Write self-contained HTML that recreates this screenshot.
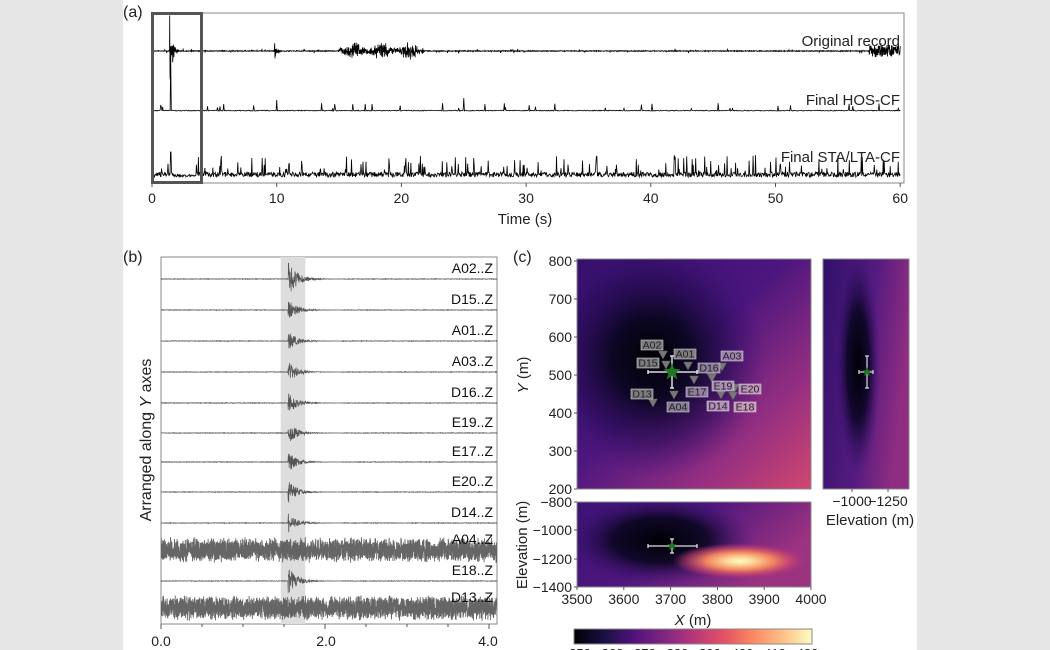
<!DOCTYPE html>
<html><head><meta charset="utf-8"><style>
body{margin:0;background:#e6e6e6;}
svg{display:block;font-family:"Liberation Sans","DejaVu Sans",sans-serif;}
</style></head><body>
<svg id="s" width="1050" height="650" xmlns="http://www.w3.org/2000/svg">
<defs>
<linearGradient id="mbase" x1="0" y1="0" x2="1" y2="1">
<stop offset="0" stop-color="#36106e"/><stop offset="0.45" stop-color="#4c167e"/><stop offset="0.75" stop-color="#952f81"/><stop offset="1" stop-color="#d1476e"/></linearGradient>
<radialGradient id="mdark" cx="0.5" cy="0.5" r="0.5">
<stop offset="0" stop-color="#000004"/><stop offset="0.35" stop-color="#0a0620" stop-opacity="0.95"/><stop offset="0.7" stop-color="#240b52" stop-opacity="0.55"/><stop offset="1" stop-color="#3e1276" stop-opacity="0"/></radialGradient>
<linearGradient id="sbase" x1="0" y1="0" x2="1" y2="0.3">
<stop offset="0" stop-color="#30106a"/><stop offset="0.6" stop-color="#561b80"/><stop offset="1" stop-color="#8e2d81"/></linearGradient>
<radialGradient id="sdark" cx="0.5" cy="0.5" r="0.5">
<stop offset="0" stop-color="#000004"/><stop offset="0.5" stop-color="#0b0624" stop-opacity="0.9"/><stop offset="1" stop-color="#35106d" stop-opacity="0"/></radialGradient>
<linearGradient id="bbase" x1="0" y1="0" x2="1" y2="0.4">
<stop offset="0" stop-color="#3e1276"/><stop offset="0.5" stop-color="#4d177e"/><stop offset="1" stop-color="#9c3380"/></linearGradient>
<radialGradient id="bdark" cx="0.5" cy="0.5" r="0.5">
<stop offset="0" stop-color="#000004"/><stop offset="0.5" stop-color="#0a0620" stop-opacity="0.9"/><stop offset="1" stop-color="#3e1276" stop-opacity="0"/></radialGradient>
<radialGradient id="bhot" cx="0.5" cy="0.5" r="0.5">
<stop offset="0" stop-color="#fcfdbf"/><stop offset="0.2" stop-color="#fcd89a"/><stop offset="0.5" stop-color="#f0845f"/><stop offset="0.8" stop-color="#c8406f" stop-opacity="0.6"/><stop offset="1" stop-color="#9c3380" stop-opacity="0"/></radialGradient>
<linearGradient id="cbar" x1="0" y1="0" x2="1" y2="0">
<stop offset="0" stop-color="#000004"/><stop offset="0.13" stop-color="#1c1044"/><stop offset="0.25" stop-color="#4f127b"/><stop offset="0.38" stop-color="#812581"/><stop offset="0.5" stop-color="#b5367a"/><stop offset="0.63" stop-color="#e55064"/><stop offset="0.75" stop-color="#fb8761"/><stop offset="0.88" stop-color="#fec287"/><stop offset="1" stop-color="#fcfdbf"/></linearGradient>
<clipPath id="cm"><rect x="577" y="259" width="234" height="230"/></clipPath>
<clipPath id="cs"><rect x="823" y="259" width="86" height="230"/></clipPath>
<clipPath id="cb"><rect x="577" y="502" width="234" height="85"/></clipPath>
<clipPath id="cpb"><rect x="161" y="257" width="336" height="367"/></clipPath>
</defs>
<rect x="123" y="0" width="794" height="650" fill="#fff"/>
<g id="g"></g>
</svg>
<script>
var S=document.getElementById('g');var h='';
var seed=7;function r(){seed=(seed*16807)%2147483647;return seed/2147483647;}
function rn(){return r()*2-1;}
function X(t){return 152+t*12.47;}
h+='<rect x="152" y="13" width="752" height="170" fill="none" stroke="#888" stroke-width="1"/>';
var p='M152 51';
for(var i=0;i<=3000;i++){var t=i/50;var a=0.4;
if(t>1.4&&t<2.2)a=33*Math.exp(-(t-1.45)*5);
if(t>9.8&&t<10.6)a=9*Math.exp(-(t-9.85)*6);
if(t>15&&t<21.8)a=3+7*Math.pow(Math.sin((t-15)*1.4),2)*r();
if(t>57.5)a=6;
if(r()<0.02)a+=2;
p+='L'+X(t).toFixed(1)+' '+(51+rn()*a).toFixed(1);}
h+='<path d="'+p+'" fill="none" stroke="#000" stroke-width="0.8"/>';
p='M152 111';
for(var i=0;i<=1200;i++){var t=i/20;var y=111-r()*0.8;
if(r()<0.035)y=111-2-r()*6;
if(Math.abs(t-1.5)<0.03)y=58;
if(Math.abs(t-10)<0.03)y=100;
if(Math.abs(t-25)<0.03)y=98;
p+='L'+X(t).toFixed(1)+' '+y.toFixed(1);}
h+='<path d="'+p+'" fill="none" stroke="#000" stroke-width="0.8"/>';
p='M152 177';
for(var i=0;i<=1500;i++){var t=i/25;var y=177-r()*5;
if(r()<0.1)y=177-6-r()*16;
if(Math.abs(t-1.5)<0.03)y=152;
if(t>1.7&&t<3.5)y=177-r()*3;
p+='L'+X(t).toFixed(1)+' '+y.toFixed(1);}
h+='<path d="'+p+'" fill="none" stroke="#000" stroke-width="0.8"/>';
h+='<rect x="152.5" y="13.5" width="49" height="169" fill="none" stroke="#555" stroke-width="3"/>';
for(var k=0;k<=6;k++){var x=X(k*10);h+='<line x1="'+x+'" y1="183" x2="'+x+'" y2="187" stroke="#555"/><text x="'+x+'" y="203" font-size="14" text-anchor="middle" fill="#222">'+(k*10)+'</text>';}
h+='<text x="525" y="224" font-size="15" text-anchor="middle" fill="#222">Time (s)</text>';
h+='<text x="900" y="46" font-size="15" text-anchor="end" fill="#222">Original record</text>';
h+='<text x="900" y="105" font-size="15" text-anchor="end" fill="#222">Final HOS-CF</text>';
h+='<text x="900" y="162" font-size="15" text-anchor="end" fill="#222">Final STA/LTA-CF</text>';
h+='<text x="123" y="17" font-size="16" fill="#222">(a)</text>';
function XB(t){return 161+t*82;}
h+='<rect x="161" y="257" width="336" height="367" fill="#fff" stroke="#888"/>';
h+='<rect x="'+XB(1.46)+'" y="257" width="'+(0.3*82)+'" height="367" fill="#ddd"/>';
var st=[['A02',279,0,1.3],['D15',310,0,0.8],['A01',341,0,0.7],['A03',372,0,0.8],['D16',403,0,0.8],['E19',433,0,0.8],['E17',462,0,0.8],['E20',492,0,0.8],['D14',523,0,0.7],['A04',550,1,0.5],['E18',581,0,1],['D13',608,1,0.5]];
h+='<g clip-path="url(#cpb)">';var tx='';
st.forEach(function(s){var b=s[1];var p='M161 '+b;var n=s[2]?3100:1400;
for(var i=0;i<=n;i++){var t=4.12*i/n;var a;
if(s[2])a=7+r()*6; else {a=0.3; if(t>1.55&&t<2.2)a=14*s[3]*Math.exp(-(t-1.55)*9);}
p+='L'+XB(t).toFixed(1)+' '+(b+rn()*a).toFixed(1);}
h+='<path d="'+p+'" fill="none" stroke="#555" stroke-width="'+(s[2]?0.9:0.7)+'" opacity="'+(s[2]?0.9:1)+'"/>';
tx+='<text x="493" y="'+(b-6)+'" font-size="14" text-anchor="end" fill="#111">'+s[0]+'..Z</text>';});
h+='</g>'+tx;
for(var k=0;k<=8;k++){var x=XB(k*0.5);h+='<line x1="'+x+'" y1="624" x2="'+x+'" y2="'+(k%4==0?629:627)+'" stroke="#555"/>';}
[['0.0',161],['2.0',326],['4.0',488]].forEach(function(q){h+='<text x="'+q[1]+'" y="646" font-size="14" text-anchor="middle" fill="#222">'+q[0]+'</text>';});
h+='<text transform="translate(151 440) rotate(-90)" font-size="16" text-anchor="middle" fill="#222">Arranged along <tspan font-style="italic">Y</tspan> axes</text>';
h+='<text x="123" y="262" font-size="16" fill="#222">(b)</text>';
h+='<g clip-path="url(#cm)"><rect x="577" y="259" width="234" height="230" fill="url(#mbase)"/><ellipse cx="652" cy="358" rx="115" ry="120" fill="url(#mdark)"/></g>';
h+='<rect x="577" y="259" width="234" height="230" fill="none" stroke="#888"/>';
[[800,261],[700,299],[600,337],[500,375],[400,413],[300,451],[200,489]].forEach(function(q){h+='<text x="572" y="'+(q[1]+5)+'" font-size="14" text-anchor="end" fill="#222">'+q[0]+'</text><line x1="574" y1="'+q[1]+'" x2="577" y2="'+q[1]+'" stroke="#555"/>';});
h+='<text transform="translate(528 375) rotate(-90)" font-size="15" text-anchor="middle" fill="#222"><tspan font-style="italic">Y</tspan> (m)</text>';
h+='<text x="513" y="262" font-size="16" fill="#222">(c)</text>';
var tri=[[663,355],[666,365],[688,366],[722,367],[711,377],[694,380],[712,378],[735,388],[653,403],[674,395],[721,395],[733,396]];
tri.forEach(function(t){h+='<path d="M'+(t[0]-4.5)+' '+(t[1]-4)+'L'+(t[0]+4.5)+' '+(t[1]-4)+'L'+t[0]+' '+(t[1]+4)+'Z" fill="#777" stroke="#555" stroke-width="0.5"/>';});
var lb=[['A02',641,340,'#8a8a8a'],['D15',637,358,'#8a8a8a'],['A01',674,349,'#8a8a8a'],['A03',721,351,'#a98fb8'],['D16',698,363,'#9a8aa8'],['E17',686,387,'#9f8aac'],['E19',712,381,'#b89bc0'],['E20',739,384,'#c7a0c0'],['D13',631,389,'#8a8a8a'],['A04',667,402,'#8f8a9e'],['D14',707,401,'#c29ec6'],['E18',734,402,'#d2a6c0']];
lb.forEach(function(l){h+='<rect x="'+l[1]+'" y="'+l[2]+'" width="22" height="10" fill="'+l[3]+'" stroke="#ddd" stroke-width="0.6" opacity="0.9"/><text x="'+(l[1]+11)+'" y="'+(l[2]+8.5)+'" font-size="10.5" text-anchor="middle" fill="#222">'+l[0]+'</text>';});
function star(cx,cy,R,c){var p='';for(var i=0;i<10;i++){var a=-Math.PI/2+i*Math.PI/5;var rr=i%2?R*0.42:R;p+=(i?'L':'M')+(cx+rr*Math.cos(a)).toFixed(1)+' '+(cy+rr*Math.sin(a)).toFixed(1);}return '<path d="'+p+'Z" fill="'+c+'"/>';}
function eb(cx,cy,x1,x2,y1,y2,w){return '<g stroke="#ddd" stroke-width="'+w+'"><line x1="'+x1+'" y1="'+cy+'" x2="'+x2+'" y2="'+cy+'"/><line x1="'+cx+'" y1="'+y1+'" x2="'+cx+'" y2="'+y2+'"/><line x1="'+x1+'" y1="'+(cy-2)+'" x2="'+x1+'" y2="'+(cy+2)+'"/><line x1="'+x2+'" y1="'+(cy-2)+'" x2="'+x2+'" y2="'+(cy+2)+'"/><line x1="'+(cx-2)+'" y1="'+y1+'" x2="'+(cx+2)+'" y2="'+y1+'"/><line x1="'+(cx-2)+'" y1="'+y2+'" x2="'+(cx+2)+'" y2="'+y2+'"/></g>';}
h+=eb(672,372,648,697,356,388,1.5)+star(672,372,9,'#1e7a1e');
h+='<g clip-path="url(#cs)"><rect x="823" y="259" width="86" height="230" fill="url(#sbase)"/><ellipse cx="858" cy="365" rx="22" ry="110" fill="url(#sdark)"/></g>';
h+='<rect x="823" y="259" width="86" height="230" fill="none" stroke="#888"/>';
h+=eb(867,372,859,873,356,388,1.2)+star(867,372,5,'#1e7a1e');
[[852,'\u22121000'],[888,'\u22121250']].forEach(function(q){h+='<line x1="'+q[0]+'" y1="489" x2="'+q[0]+'" y2="492" stroke="#555"/><text x="'+q[0]+'" y="506" font-size="14" text-anchor="middle" fill="#222">'+q[1]+'</text>';});
h+='<text x="870" y="525" font-size="15" text-anchor="middle" fill="#222">Elevation (m)</text>';
h+='<g clip-path="url(#cb)"><rect x="577" y="502" width="234" height="85" fill="url(#bbase)"/><ellipse cx="660" cy="540" rx="95" ry="45" fill="url(#bdark)"/><ellipse cx="740" cy="561" rx="68" ry="18" fill="url(#bhot)"/></g>';
h+='<rect x="577" y="502" width="234" height="85" fill="none" stroke="#888"/>';
h+=eb(672,546,648,697,539,553,1.3)+star(672,546,5,'#1e7a1e');
[[502,'\u2212800'],[530,'\u22121000'],[559,'\u22121200'],[587,'\u22121400']].forEach(function(q){h+='<line x1="574" y1="'+q[0]+'" x2="577" y2="'+q[0]+'" stroke="#555"/><text x="572" y="'+(q[0]+5)+'" font-size="14" text-anchor="end" fill="#222">'+q[1]+'</text>';});
h+='<text transform="translate(527 545) rotate(-90)" font-size="15" text-anchor="middle" fill="#222">Elevation (m)</text>';
for(var k=0;k<=5;k++){var x=577+k*46.8;h+='<line x1="'+x+'" y1="587" x2="'+x+'" y2="590" stroke="#555"/><text x="'+x+'" y="604" font-size="14" text-anchor="middle" fill="#222">'+(3500+k*100)+'</text>';}
h+='<text x="693" y="625" font-size="15" text-anchor="middle" fill="#222"><tspan font-style="italic">X</tspan> (m)</text>';
h+='<rect x="574" y="629" width="238" height="15" fill="url(#cbar)" stroke="#888"/>';
for(var k=0;k<8;k++){var x=580+k*32.5;h+='<text x="'+x+'" y="658" font-size="13" text-anchor="middle" fill="#222">'+(350+k*10)+'</text>';}
S.innerHTML=h;
</script>
</body></html>
